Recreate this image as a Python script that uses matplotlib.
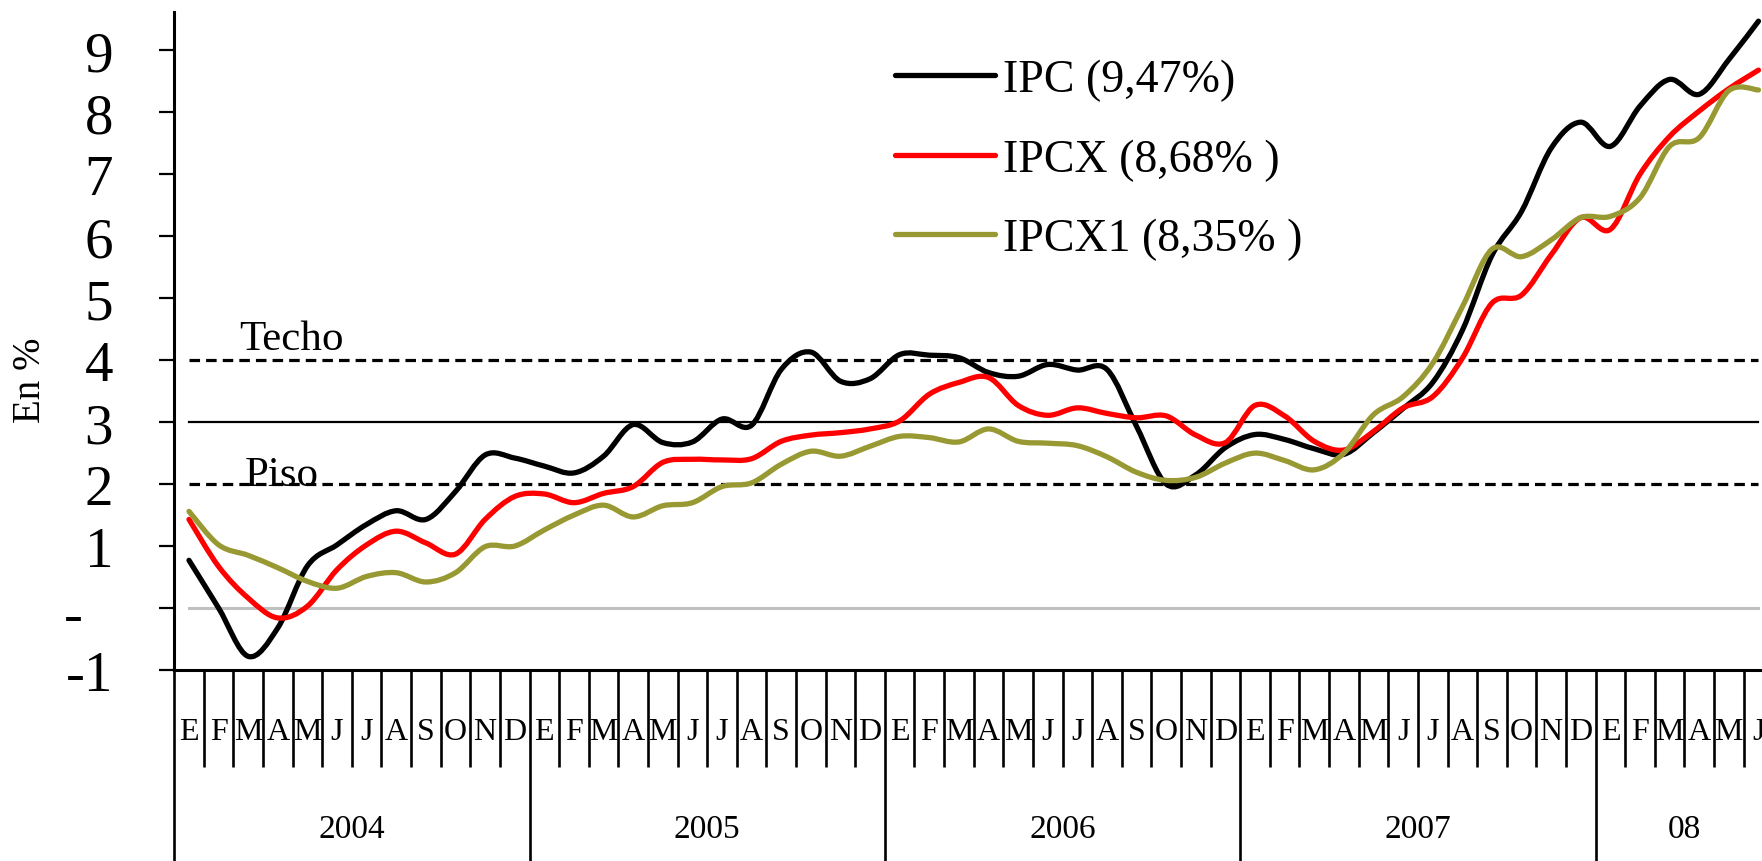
import matplotlib
matplotlib.use("Agg")
import matplotlib.pyplot as plt
import numpy as np
from matplotlib.path import Path
from matplotlib.patches import PathPatch
from matplotlib.lines import Line2D

plt.rcParams["font.family"] = ["Liberation Serif", "DejaVu Serif"]

# Monthly data, Jan 2004 - Jun 2008 (12-month change, %)
months = ["E", "F", "M", "A", "M", "J", "J", "A", "S", "O", "N", "D"] * 4 + ["E", "F", "M", "A", "M", "J"]
years = ["2004", "2005", "2006", "2007", "08"]

ipc = [0.77, 0.0, -0.78, -0.32, 0.68, 1.02, 1.35, 1.57, 1.43, 1.88, 2.47, 2.42,
       2.29, 2.18, 2.45, 2.96, 2.67, 2.68, 3.05, 2.95, 3.85, 4.13, 3.66, 3.70,
       4.09, 4.08, 4.04, 3.80, 3.74, 3.93, 3.84, 3.85, 2.93, 2.00, 2.15, 2.59,
       2.80, 2.72, 2.57, 2.48, 2.83, 3.22, 3.64, 4.48, 5.69, 6.40, 7.42, 7.84,
       7.45, 8.10, 8.53, 8.29, 8.85, 9.47]
ipcx = [1.43, 0.67, 0.16, -0.16, 0.03, 0.62, 1.02, 1.24, 1.05, 0.87, 1.43, 1.80,
        1.84, 1.70, 1.85, 1.96, 2.35, 2.40, 2.39, 2.41, 2.69, 2.79, 2.83, 2.89,
        3.02, 3.45, 3.64, 3.72, 3.27, 3.11, 3.23, 3.14, 3.07, 3.10, 2.79, 2.67,
        3.27, 3.10, 2.69, 2.55, 2.85, 3.23, 3.41, 4.03, 4.92, 5.05, 5.70, 6.30,
        6.11, 7.00, 7.61, 8.02, 8.38, 8.68]
ipcx1 = [1.56, 1.02, 0.85, 0.65, 0.43, 0.32, 0.51, 0.57, 0.42, 0.57, 0.99, 1.00,
         1.26, 1.50, 1.66, 1.47, 1.65, 1.70, 1.96, 2.02, 2.32, 2.53, 2.45, 2.61,
         2.77, 2.75, 2.68, 2.89, 2.69, 2.66, 2.62, 2.44, 2.19, 2.06, 2.11, 2.34,
         2.50, 2.38, 2.23, 2.50, 3.12, 3.41, 3.95, 4.86, 5.79, 5.67, 5.94, 6.30,
         6.32, 6.62, 7.45, 7.59, 8.35, 8.36]

series_labels = ["IPC (9,47%)", "IPCX (8,68% )", "IPCX1 (8,35% )"]
series_colors = ["#000000", "#ff0000", "#999933"]

techo = 4
meta = 3
piso = 2

ytick_vals = [-1, 0, 1, 2, 3, 4, 5, 6, 7, 8, 9]
ytick_labels = ["-1", "-", "1", "2", "3", "4", "5", "6", "7", "8", "9"]


def smooth_path(x, y):
    # Excel-like smoothed line: Catmull-Rom converted to cubic Bezier
    x = np.asarray(x, float)
    y = np.asarray(y, float)
    n = len(x)
    verts = [(x[0], y[0])]
    codes = [Path.MOVETO]
    for i in range(n - 1):
        i0 = max(i - 1, 0)
        i3 = min(i + 2, n - 1)
        c1 = (x[i] + (x[i + 1] - x[i0]) / 6, y[i] + (y[i + 1] - y[i0]) / 6)
        c2 = (x[i + 1] - (x[i3] - x[i]) / 6, y[i + 1] - (y[i3] - y[i]) / 6)
        verts += [c1, c2, (x[i + 1], y[i + 1])]
        codes += [Path.CURVE4] * 3
    return Path(verts, codes)


fig = plt.figure(figsize=(17.62, 8.62), dpi=100)
ax = fig.add_axes([0.09886, 0.22158, 0.90114, 0.76276])

n = len(months)
xc = np.arange(n) + 0.5

# reference lines
ax.plot(xc, [0] * n, color="#c0c0c0", lw=2.2, zorder=1)
ax.plot(xc, [meta] * n, color="black", lw=1.6, zorder=1)
ax.plot(xc, [techo] * n, color="black", lw=2.3, linestyle=(0, (3.3, 1.9)), zorder=1)
ax.plot(xc, [piso] * n, color="black", lw=2.3, linestyle=(0, (3.3, 1.9)), zorder=1)

for vals, col in zip([ipc, ipcx, ipcx1], series_colors):
    ax.add_patch(PathPatch(smooth_path(xc, vals), fill=False, edgecolor=col,
                           lw=3.8, capstyle="round", joinstyle="round", zorder=3))

ax.set_xlim(0, 53.62)
ax.set_ylim(-1, 9.61)

# spines
for s in ["top", "right"]:
    ax.spines[s].set_visible(False)
ax.spines["left"].set_linewidth(2.2)
ax.spines["bottom"].set_linewidth(2.2)

# y ticks
ax.set_yticks(ytick_vals)
ax.set_yticklabels([])
ax.tick_params(axis="y", direction="out", length=10.8, width=1.6)
for v, lab in zip(ytick_vals, ytick_labels):
    if lab == "-":
        ax.text(-0.0575, v - 0.05, lab, transform=ax.get_yaxis_transform(),
                ha="right", va="center_baseline", fontsize=41)
    else:
        ax.text(-0.0385, v, lab, transform=ax.get_yaxis_transform(),
                ha="right", va="center_baseline", fontsize=41)

ax.text(-0.0905, 0.4426, "En %", transform=ax.transAxes, rotation=90,
        ha="center", va="center", fontsize=28)

# x axis: month ticks (minor) and year ticks (major)
year_ticks = list(range(0, n, 12))
month_ticks = [i for i in range(n) if i % 12 != 0]
ax.set_xticks(year_ticks)
ax.set_xticks(month_ticks, minor=True)
ax.set_xticklabels([])
ax.tick_params(axis="x", which="major", direction="out", length=140, width=1.9)
ax.tick_params(axis="x", which="minor", direction="out", length=70, width=1.9)

xt = ax.get_xaxis_transform()
for i, m in enumerate(months):
    ax.text(i + 0.5, -0.1045, m, transform=xt, ha="center", va="baseline",
            fontsize=23, clip_on=False)
year_centers = [6, 18, 30, 42, 51]
for c, yl in zip(year_centers, years):
    ax.text(c, -0.2535, yl, transform=xt, ha="center", va="baseline",
            fontsize=24, clip_on=False)

# band labels
ax.text(2.19, 4.18, "Techo", ha="left", va="baseline", fontsize=31)
ax.text(2.39, 1.99, "Piso", ha="left", va="baseline", fontsize=31)

# legend
handles = [Line2D([], [], color=c, lw=3.8, solid_capstyle="round") for c in series_colors]
ax.legend(handles, series_labels, loc="upper left",
          bbox_to_anchor=(895 / 1762, 1 - 60 / 862), bbox_transform=fig.transFigure,
          frameon=False, fontsize=33, borderpad=0, borderaxespad=0,
          handlelength=2.18, handletextpad=0.17, labelspacing=0.80)

fig.savefig("out.png", dpi=100)
